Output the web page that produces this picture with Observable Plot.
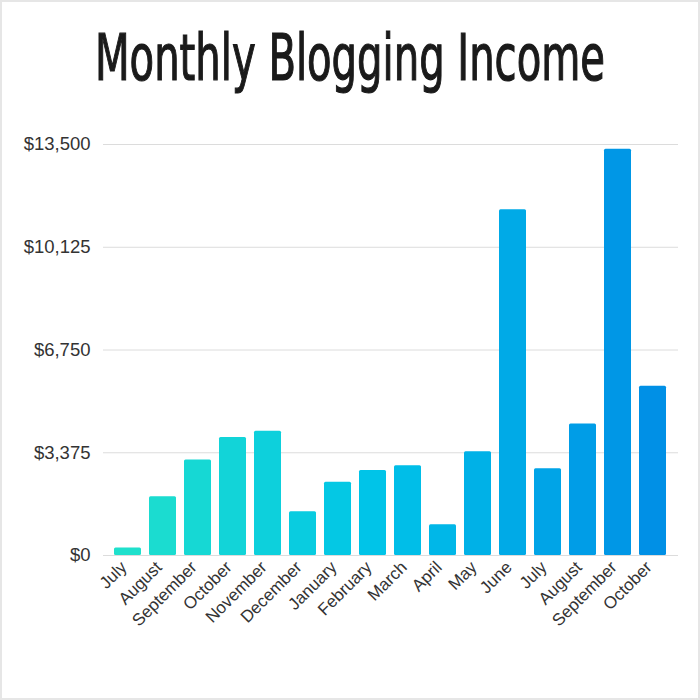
<!DOCTYPE html>
<html>
<head>
<meta charset="utf-8">
<script src="https://cdn.jsdelivr.net/npm/d3@7"></script>
<script src="https://cdn.jsdelivr.net/npm/@observablehq/plot@0.6"></script>
<style>
  html, body { margin: 0; padding: 0; background: #fff; }
  #wrap { position: relative; width: 700px; height: 700px; overflow: hidden; }
  #title { position: relative; height: 110px; margin: 0; }
  #title span { position: absolute; left: 350px; top: 26px; font-family: "DejaVu Sans", sans-serif; font-stretch: condensed; font-size: 64px; font-weight: normal; color: #1a1a1a; line-height: 1; white-space: nowrap; -webkit-text-stroke: 1.2px #1a1a1a; transform-origin: 0 0; }
  #frame { position: absolute; left: 0; top: 0; width: 700px; height: 700px; box-sizing: border-box; border: 2px solid #e6e6e6; pointer-events: none; }
</style>
</head>
<body>
<div id="wrap">
  <div id="title"><span id="ttext">Monthly Blogging Income</span></div>
  <div id="chart"></div>
  <div id="frame"></div>
</div>
<script>
const months = ["July","August","September","October","November","December","January","February","March","April","May","June","July","August","September","October"];
const income = [250, 1930, 3140, 3880, 4080, 1440, 2410, 2790, 2950, 1010, 3410, 11360, 2850, 4320, 13340, 5560];
const yTicks = [0, 3375, 6750, 10125, 13500];

const data = months.map((m, i) => ({key: i, month: m, value: income[i]}));
const fmt = d3.format("$,");

const chart = Plot.plot({
  width: 700,
  height: 590,
  marginTop: 34,
  marginBottom: 145,
  marginLeft: 103,
  marginRight: 22,
  style: {fontFamily: "Liberation Sans, Arial, sans-serif", fontSize: "17px", color: "#333", background: "#fff"},
  x: {domain: data.map(d => d.key), padding: 0.22, label: null},
  y: {domain: [0, 13500], label: null},
  color: {type: "linear", domain: [0, 7, 15], range: ["#1fe0cc", "#00c4e8", "#0090e6"], interpolate: "rgb"},
  marks: [
    Plot.ruleY(yTicks, {stroke: "#dcdcdc", strokeWidth: 1}),
    Plot.barY(data, {x: "key", y: "value", fill: d => d.key, rx: 1.5}),
    Plot.axisY({ticks: yTicks, tickFormat: fmt, tickSize: 0, tickPadding: 13, fontSize: 18.5, fill: "#333", label: null}),
    Plot.axisX({tickFormat: i => months[i], tickSize: 0, tickRotate: -45, tickPadding: 9, dx: -4, fontSize: 17, fill: "#333", label: null})
  ]
});
document.getElementById("chart").appendChild(chart);

const t = document.getElementById("ttext");
const w = t.getBoundingClientRect().width;
const s = 510 / w;
t.style.transform = `scaleX(${s}) translateX(${-w / 2}px)`;
</script>
</body>
</html>
